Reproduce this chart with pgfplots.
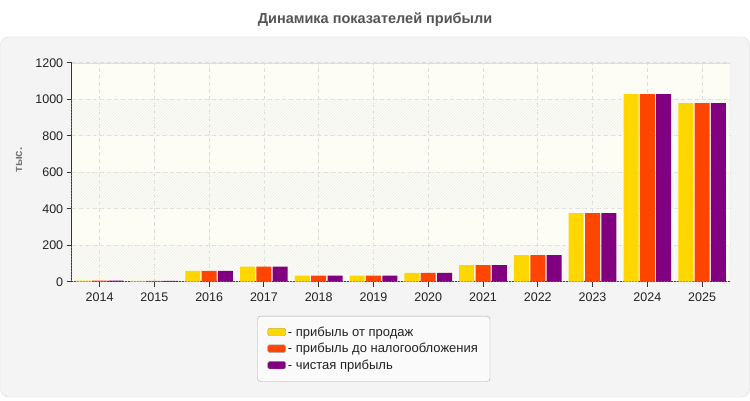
\documentclass[border=0pt]{standalone}
\usepackage{fontspec}
\setmainfont{Liberation Sans}
\usepackage{pgfplots}
\pgfplotsset{compat=1.18}
\usetikzlibrary{patterns}

\definecolor{cSales}{HTML}{FFD700}
\definecolor{cPretax}{HTML}{FF4500}
\definecolor{cNet}{HTML}{800080}
\definecolor{panelbg}{HTML}{F4F4F4}
\definecolor{panelline}{HTML}{DDDDDD}
\definecolor{titlecol}{HTML}{555555}
\definecolor{ylabcol}{HTML}{777777}
\definecolor{textcol}{HTML}{222222}
\definecolor{axiscol}{HTML}{333333}
\definecolor{gridcol}{HTML}{DCDCDC}
\definecolor{plotbg}{HTML}{FDFDF6}
\definecolor{hatchcol}{HTML}{EFEFEC}
\definecolor{legbg}{HTML}{FAFAFA}
\definecolor{legline}{HTML}{A8A8A8}

% one row per year, x = year index (0 = 2014)
\pgfplotstableread{
x sales pretax net
0 6 6 6
1 5 5 5
2 60 60 60
3 82 82 82
4 33 33 33
5 33 33 33
6 49 49 49
7 91 91 91
8 146 146 146
9 376 376 376
10 1028 1028 1028
11 979 979 979
}\profit

\pgfplotsset{
  swatch/.style={
    legend image code/.code={
      \draw[##1, draw=gray!75, rounded corners=1.5pt] (0pt,-3.5pt) rectangle (18pt,4pt);
    }
  }
}

\begin{document}
\begin{tikzpicture}[x=1pt,y=1pt]
\path[use as bounding box] (0,0) rectangle (750,400);
\fill[white] (0,0) rectangle (750,400);
\draw[fill=panelbg, draw=panelline, rounded corners=8pt] (0.5,3) rectangle (749.5,363);
\node[font=\bfseries\fontsize{14.5}{17}\selectfont, text=titlecol] at (375,380) {Динамика показателей прибыли};
\node[rotate=90, font=\bfseries\fontsize{11.5}{13}\selectfont, text=ylabcol] at (19,240) {тыс.};

\begin{axis}[
    at={(71.7pt,118.3pt)}, anchor=south west,
    scale only axis,
    width=658.3pt, height=219pt,
    xmin=-0.51, xmax=11.51,
    ymin=0, ymax=1200,
    ybar=1.3pt, bar width=15pt,
    xtick={0,...,11},
    xticklabels={2014,2015,2016,2017,2018,2019,2020,2021,2022,2023,2024,2025},
    ytick={0,200,...,1200},
    axis x line*=bottom, axis y line*=left,
    axis line style={draw=axiscol, line width=1pt, -},
    tick align=outside, major tick length=5pt,
    tick style={draw=axiscol, line width=1pt},
    grid=major,
    major grid style={draw=gridcol, dash pattern=on 4pt off 3pt, line width=0.8pt},
    axis background/.style={fill=plotbg},
    tick label style={font=\fontsize{12.5}{15}\selectfont, text=textcol},
    xticklabel style={yshift=-2.5pt},
    /pgf/number format/assume math mode=true,
    /pgf/number format/1000 sep={},
    legend style={
      at={(0.282,-0.1566)}, anchor=north west,
      draw=legline, fill=legbg, rounded corners=3pt,
      font=\fontsize{13}{15}\selectfont, text=textcol,
      inner xsep=10pt, inner ysep=8.5pt, row sep=1.6pt,
      cells={anchor=west},
      /tikz/every even column/.append style={column sep=0pt},
    },
    legend cell align=left,
]
\fill[pattern=north east lines, pattern color=hatchcol] (axis cs:-0.51,0) rectangle (axis cs:11.51,200);
\fill[pattern=north east lines, pattern color=hatchcol] (axis cs:-0.51,400) rectangle (axis cs:11.51,600);
\fill[pattern=north east lines, pattern color=hatchcol] (axis cs:-0.51,800) rectangle (axis cs:11.51,1000);

\addplot[fill=cSales, draw=none, swatch] table[x=x, y=sales] {\profit};
\addlegendentry{- прибыль от продаж}
\addplot[fill=cPretax, draw=none, swatch] table[x=x, y=pretax] {\profit};
\addlegendentry{- прибыль до налогообложения}
\addplot[fill=cNet, draw=none, swatch] table[x=x, y=net] {\profit};
\addlegendentry{- чистая прибыль}

\draw[draw=panelline] (rel axis cs:0,1) -- (rel axis cs:1,1) -- (rel axis cs:1,0);
\end{axis}
\end{tikzpicture}
\end{document}
